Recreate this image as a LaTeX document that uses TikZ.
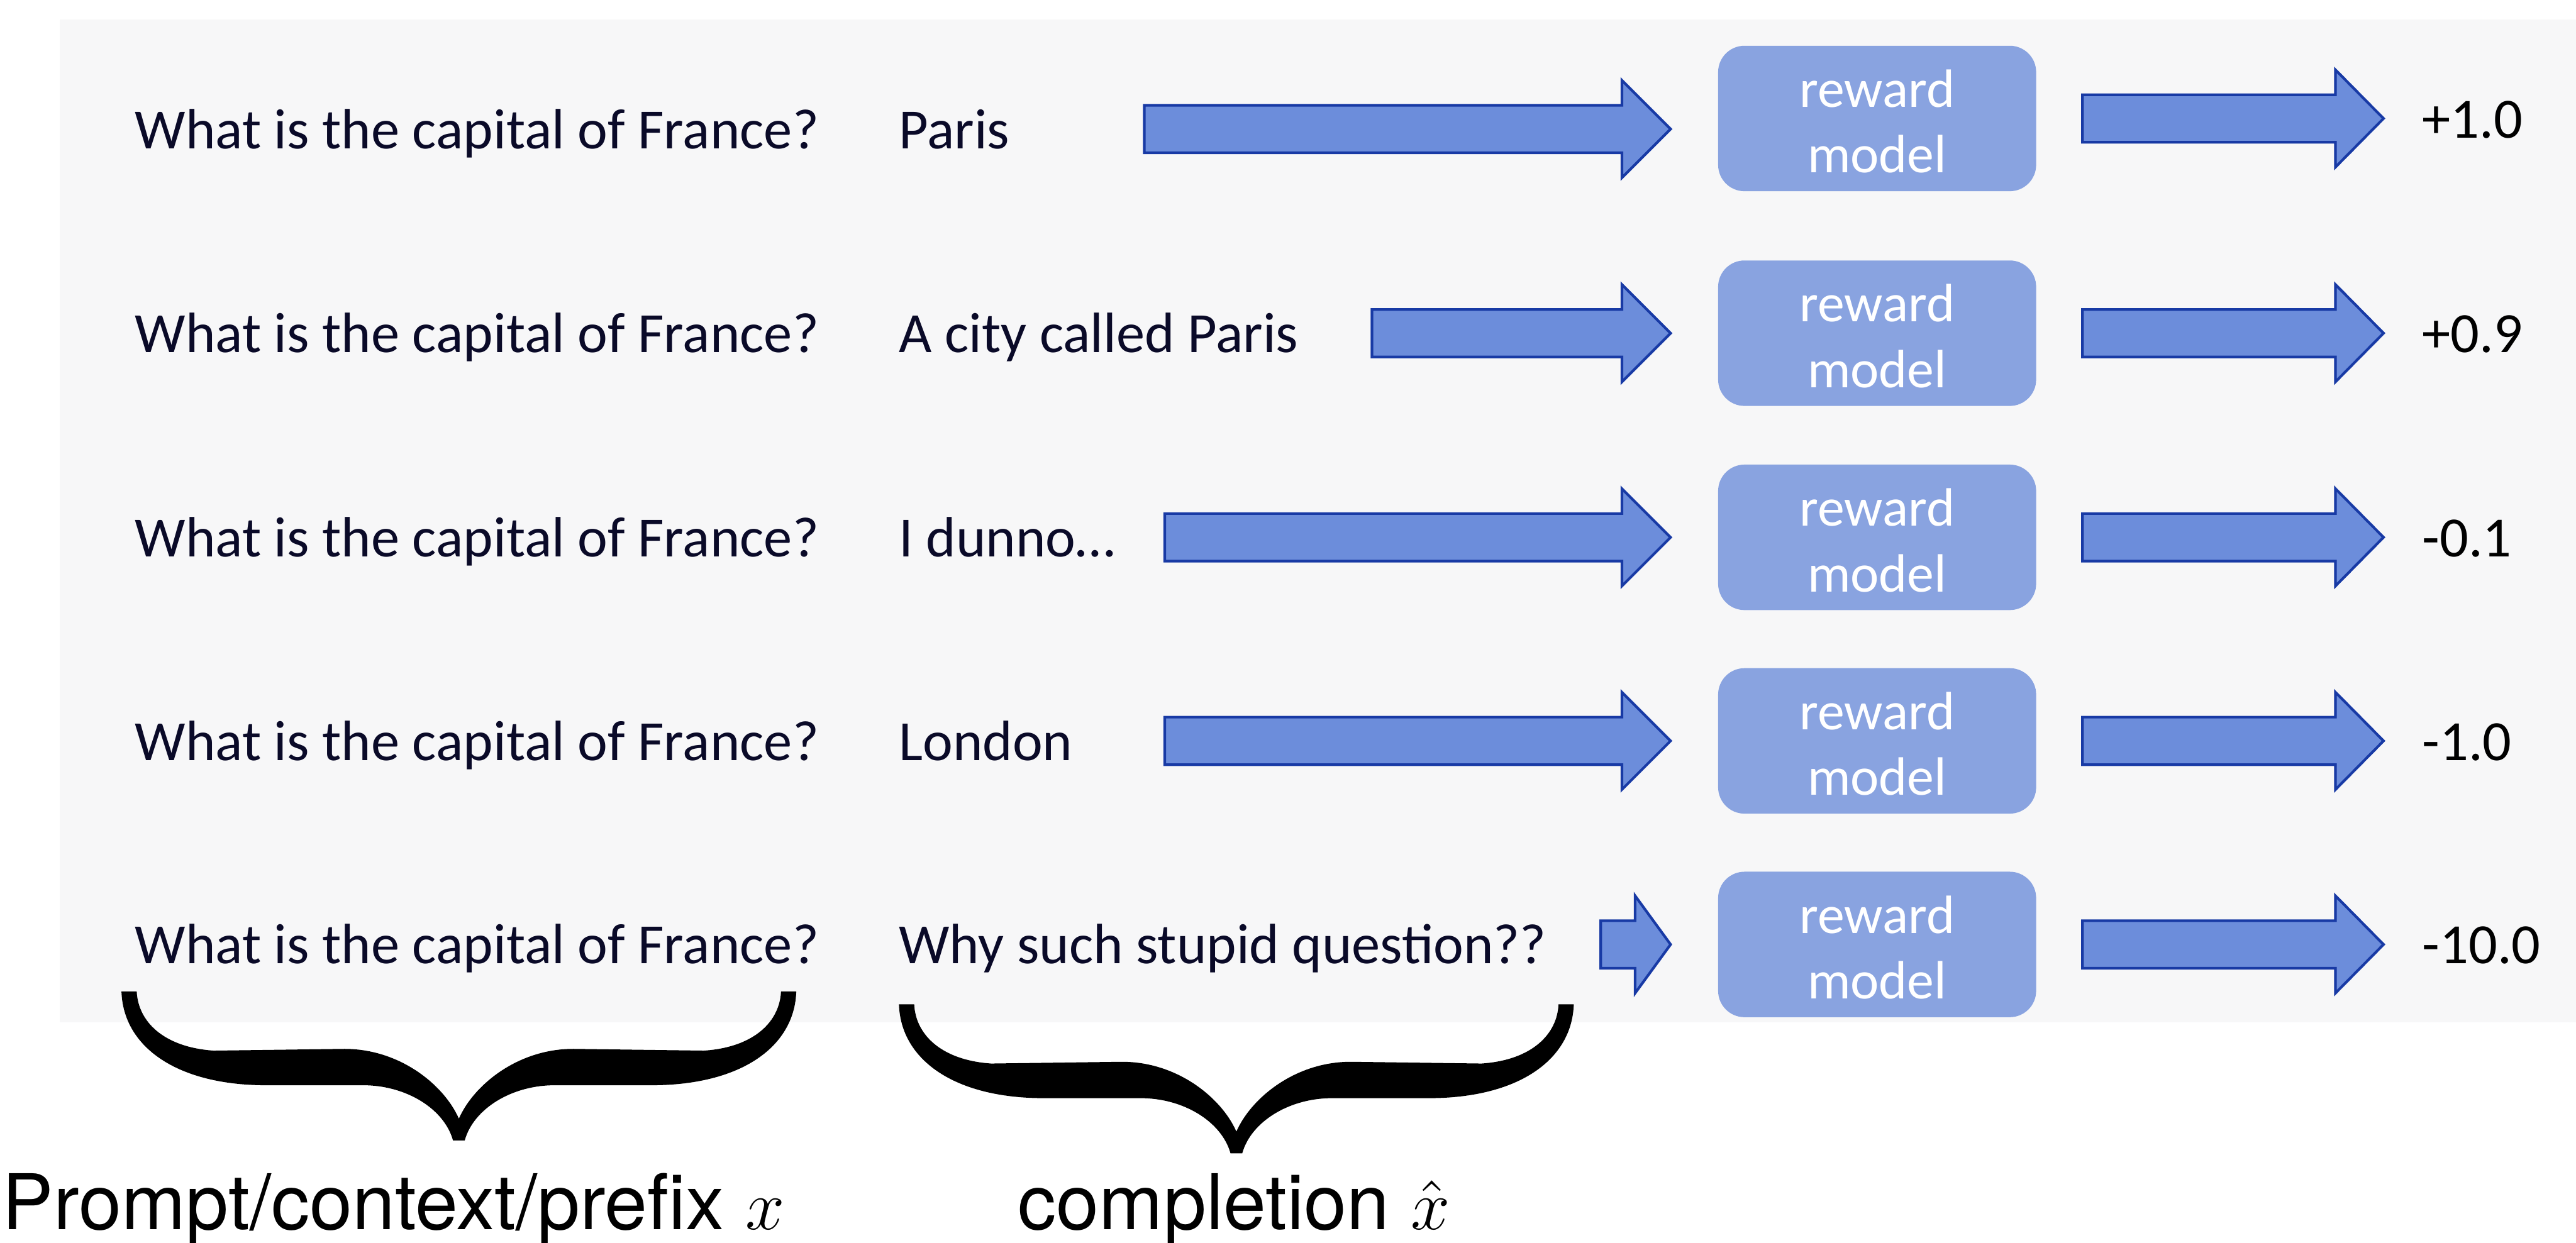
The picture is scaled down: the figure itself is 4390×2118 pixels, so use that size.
\documentclass[tikz,border=0pt]{standalone}
\usepackage{fontspec}
\setmainfont{Carlito}
\newfontfamily\helvfont{TeX Gyre Heros}
\definecolor{panelgray}{RGB}{247,247,248}
\definecolor{navytext}{RGB}{10,10,40}
\definecolor{boxblue}{RGB}{137,163,224}
\definecolor{arrowfill}{RGB}{108,141,219}
\definecolor{arrowline}{RGB}{24,58,165}
\newcommand\barrow[4]{%
  \draw[blockarrow] (#1,#3-40.5) -- (#2-#4,#3-40.5) -- (#2-#4,#3-83) -- (#2,#3)
    -- (#2-#4,#3+83) -- (#2-#4,#3+40.5) -- (#1,#3+40.5) -- cycle;}
\newcommand\bigbrace[2]{%
  \begin{scope}[shift={(#1,#2)}]
  \fill[black] (-575,0) .. controls (-572,95) and (-480,160) .. (-328,160) -- (-163,160)
    .. controls (-90,160) and (-25,200) .. (-10,254) -- (10,254)
    .. controls (25,200) and (90,160) .. (163,160) -- (328,160)
    .. controls (480,160) and (572,95) .. (575,0) -- (549,0)
    .. controls (547,50) and (505,95) .. (418,101) -- (195,98)
    .. controls (100,98) and (25,160) .. (0,217)
    .. controls (-25,160) and (-100,98) .. (-195,98) -- (-418,101)
    .. controls (-505,95) and (-547,50) .. (-549,0) -- cycle;
  \end{scope}}
\begin{document}
\begin{tikzpicture}[x=0.1pt,y=-0.1pt,
  rowtext/.style={anchor=base west, inner sep=0pt, text=navytext, font=\fontsize{9.7}{11}\selectfont},
  valtext/.style={anchor=base west, inner sep=0pt, text=black, font=\fontsize{9.7}{11}\selectfont},
  rmodel/.style={fill=boxblue, rounded corners=4.5pt, minimum width=54.2pt, minimum height=24.8pt,
    text=white, align=center, inner sep=0pt, font=\fontsize{9.2}{11.2}\selectfont},
  blockarrow/.style={fill=arrowfill, draw=arrowline, line width=0.45pt, line join=miter},
  bottomlabel/.style={anchor=base west, inner sep=0pt, text=black, font=\helvfont\fontsize{13.1}{14}\selectfont}]
\useasboundingbox (0,0) rectangle (4390,2118);
\fill[white] (0,0) rectangle (4390,2118);
\fill[panelgray] (102,33) rectangle (4390,1743);

% rows
\foreach \yl/\yb/\comp/\xs/\hl [count=\i] in {
  220/202/Paris/1950/83,
  568/568/A city called Paris/2338/83,
  916/916/I dunno…/1985/83,
  1263/1263/London/1985/83,
  1610/1610/Why such stupid question??/2728/60.5}{
  \node[rowtext] (prompt\i) at (228,\yl+33) {What is the capital of France?};
  \node[rowtext] (comp\i) at (1530,\yl+33) {\comp};
  \barrow{\xs}{2847}{\yl}{\hl}
  \node[rmodel] (rm\i) at (3199,\yb) {};
  \node[text=white, align=center, inner sep=0pt, font=\fontsize{9.2}{11.2}\selectfont]
    (rmtext\i) at ([yshift=-0.5pt]rm\i.center) {reward\\model};
  \barrow{3549}{4062}{\yb}{82}
}
\node[valtext] (val1) at (4126,202+33) {+1.0};
\node[valtext] (val2) at (4126,568+33) {+0.9};
\node[valtext] (val3) at (4126,916+33) {-0.1};
\node[valtext] (val4) at (4126,1263+33) {-1.0};
\node[valtext] (val5) at (4126,1610+33) {-10.0};

% braces
\bigbrace{782}{1690}
\bigbrace{2107}{1712}

\node[bottomlabel] (lblprompt) at (2,2096) {Prompt/context/prefix $x$};
\node[bottomlabel] (lblcomp) at (1733,2096) {completion $\hat{x}$};
\end{tikzpicture}
\end{document}
